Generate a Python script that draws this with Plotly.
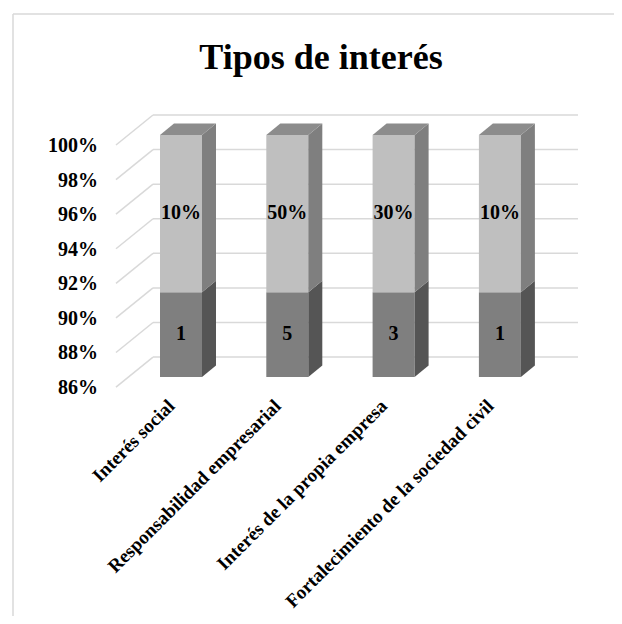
import plotly.graph_objects as go

# ---------------- data ----------------
categories = ["Interés social", "Responsabilidad empresarial",
              "Interés de la propia empresa", "Fortalecimiento de la sociedad civil"]
counts = [1, 5, 3, 1]
shares = [0.10, 0.50, 0.30, 0.10]
y_ticks = [86, 88, 90, 92, 94, 96, 98, 100]
y_tick_text = ["86%", "88%", "90%", "92%", "94%", "96%", "98%", "100%"]
title_text = "Tipos de interés"

# ---------------- geometry (screen pixels -> figure pixels -> axis units) ----------------
OFF = 8                                  # page body margin of the html page
W, H = 622 - 2 * OFF, 624 - 2 * OFF      # keep the page from overflowing
L, R, T, B = 106 - OFF, 600 - OFF, 95 - OFF, 390 - OFF   # plot area
X0_PX, DX_PX = 181.0 - OFF, 106.3        # first bar centre, bar spacing
Y100_PX, PX_PER_PCT = 135.0 - OFF, 17.29 # pixel of 100 % on bar front, scale

def ux(px):
    return px / DX_PX

def uy(px):
    return px / PX_PER_PCT

x_range = [(L - X0_PX) / DX_PX, (R - X0_PX) / DX_PX]
y_range = [100 - (B - Y100_PX) / PX_PER_PCT, 100 + (Y100_PX - T) / PX_PER_PCT]
ymin = y_ticks[0]

bar_w = ux(42)
bar_dx, bar_dy = ux(14), uy(11.5)        # bar depth
front_dy = uy(-10)                       # floor front relative to bar front
back_dy = uy(20)                         # back wall relative to bar front
wall_front_x = ux(116 - 181)
wall_back_x = ux(153 - 181)
grid_right_x = ux(578 - 181)

# ---------------- derived values ----------------
totals = [c + s for c, s in zip(counts, shares)]
pct_count = [c / t * 100 for c, t in zip(counts, totals)]
pct_share = [s / t * 100 for s, t in zip(shares, totals)]
xs = list(range(len(categories)))

FONT = "Liberation Serif"
c_top_front, c_top_side, c_top_face = "#bfbfbf", "#7f7f7f", "#8c8c8c"
c_bot_front, c_bot_side = "#7f7f7f", "#555555"
grid_col = "#d9d9d9"

fig = go.Figure()

# front faces
fig.add_trace(go.Bar(x=xs, y=[p - ymin for p in pct_count], base=[ymin] * len(xs),
                     width=bar_w, marker=dict(color=c_bot_front, line=dict(width=0)),
                     hoverinfo="skip", showlegend=False))
fig.add_trace(go.Bar(x=xs, y=pct_share, base=pct_count,
                     width=bar_w, marker=dict(color=c_top_front, line=dict(width=0)),
                     hoverinfo="skip", showlegend=False))

# side & top faces (computed from the same data)
for i, x in enumerate(xs):
    xr = x + bar_w / 2
    xl = x - bar_w / 2
    segs = [(ymin, pct_count[i], c_bot_side), (pct_count[i], pct_count[i] + pct_share[i], c_top_side)]
    for y0, y1, col in segs:
        fig.add_trace(go.Scatter(
            x=[xr, xr + bar_dx, xr + bar_dx, xr, xr],
            y=[y0, y0 + bar_dy, y1 + bar_dy, y1, y0],
            mode="lines", fill="toself", fillcolor=col, line=dict(width=0, color=col),
            hoverinfo="skip", showlegend=False))
    top = pct_count[i] + pct_share[i]
    fig.add_trace(go.Scatter(
        x=[xl, xl + bar_dx, xr + bar_dx, xr, xl],
        y=[top, top + bar_dy, top + bar_dy, top, top],
        mode="lines", fill="toself", fillcolor=c_top_face, line=dict(width=0, color=c_top_face),
        hoverinfo="skip", showlegend=False))

# data labels
fig.add_trace(go.Scatter(
    x=xs, y=[(ymin + p) / 2 for p in pct_count], mode="text",
    text=[str(c) for c in counts],
    textfont=dict(family=FONT, size=20, color="black", weight="bold"),
    cliponaxis=False, hoverinfo="skip", showlegend=False))
fig.add_trace(go.Scatter(
    x=xs, y=[pc + ps / 2 for pc, ps in zip(pct_count, pct_share)], mode="text",
    text=[f"{s:.0%}" for s in shares],
    textfont=dict(family=FONT, size=20, color="black", weight="bold"),
    cliponaxis=False, hoverinfo="skip", showlegend=False))

# back-wall gridlines and left-wall diagonals (behind bars)
shapes = []
for v in y_ticks:
    shapes.append(dict(type="line", xref="x", yref="y", layer="below",
                       x0=wall_back_x, x1=grid_right_x, y0=v + back_dy, y1=v + back_dy,
                       line=dict(color=grid_col, width=1.5)))
    shapes.append(dict(type="line", xref="x", yref="y", layer="below",
                       x0=wall_front_x, x1=wall_back_x, y0=v + front_dy, y1=v + back_dy,
                       line=dict(color=grid_col, width=1.5)))
# chart frame (only the left and top edges are inside the picture)
pw, ph = R - L, B - T
fx0 = (13 - OFF - L) / pw
fy1 = (B - (14 - OFF)) / ph
shapes.append(dict(type="line", xref="paper", yref="paper",
                   x0=fx0, x1=(W + 20 - L) / pw, y0=fy1, y1=fy1,
                   line=dict(color="#d9d9d9", width=1.5)))
shapes.append(dict(type="line", xref="paper", yref="paper",
                   x0=fx0, x1=fx0, y0=fy1, y1=(B - H - 20) / ph,
                   line=dict(color="#d9d9d9", width=1.5)))

fig.update_layout(
    width=W, height=H,
    margin=dict(l=L, r=W - R, t=T, b=H - B, pad=0, autoexpand=False),
    plot_bgcolor="white", paper_bgcolor="white",
    barmode="overlay",
    shapes=shapes,
    title=dict(text=title_text, x=(321 - OFF) / W, xref="container", xanchor="center",
               y=1 - (56 - OFF) / H, yref="container", yanchor="middle",
               font=dict(family=FONT, size=36, color="black", weight="bold")),
    xaxis=dict(range=x_range, tickmode="array", tickvals=xs, ticktext=categories,
               tickangle=-45, showgrid=False, zeroline=False, showline=False, ticks="",
               automargin=False, ticklabelshift=-12, ticklabelstandoff=0,
               tickfont=dict(family=FONT, size=19, color="black", weight="bold")),
    yaxis=dict(range=y_range, tickmode="array",
               tickvals=[v + front_dy for v in y_ticks], ticktext=y_tick_text,
               showgrid=False, zeroline=False, showline=False, ticks="",
               automargin=False, ticklabelstandoff=7,
               tickfont=dict(family=FONT, size=20, color="black", weight="bold")),
)

fig.write_html("out.html")
